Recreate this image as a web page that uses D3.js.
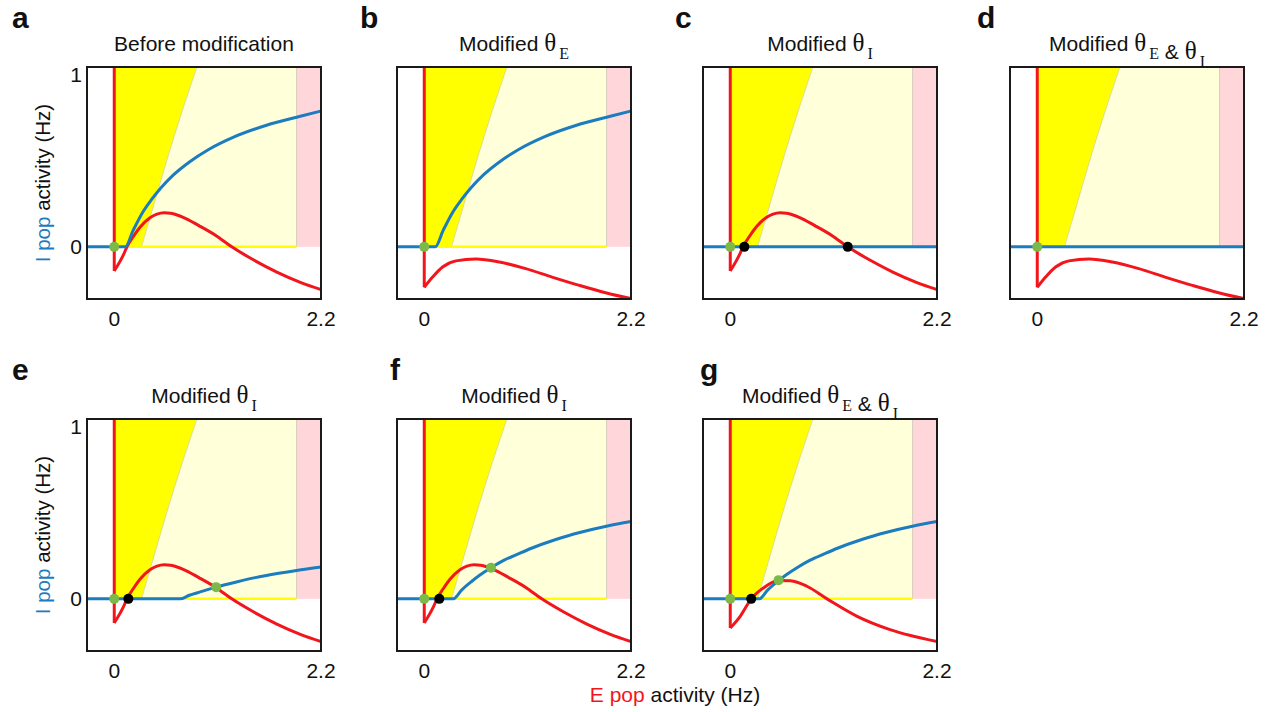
<!DOCTYPE html>
<html>
<head>
<meta charset="utf-8">
<script src="https://cdn.jsdelivr.net/npm/d3@7"></script>
<style>
  body { margin: 0; background: #fff; }
  text { font-family: "Liberation Sans", Arial, sans-serif; fill: #111; }
</style>
</head>
<body>
<div id="chart"></div>
<script>
// ---- data ----
const panelLabels = ["a", "b", "c", "d", "e", "f", "g"];
const panelTitles = [
  "Before modification",
  "Modified θ_E",
  "Modified θ_I",
  "Modified θ_E & θ_I",
  "Modified θ_I",
  "Modified θ_I",
  "Modified θ_E & θ_I"
];
const xTicks = [0, 2.2];
const yTicks = [0, 1];

// boundary of the bright yellow region (x as a function of y)
const yellowEdge = [[0.29, 0], [0.43, 0.25], [0.57, 0.5], [0.72, 0.75], [0.88, 1]];
const pinkStart = 1.94;

// E nullclines (red), after the vertical wall at x = 0
const redA = [[0, -0.134], [0.064, -0.078], [0.1, -0.042], [0.135, 0], [0.2, 0.055], [0.276, 0.11],
  [0.38, 0.162], [0.454, 0.182], [0.53, 0.19], [0.6, 0.187], [0.74, 0.163], [0.9, 0.118],
  [1.084, 0.062], [1.25, 0], [1.48, -0.072], [1.73, -0.14], [1.98, -0.197], [2.2, -0.237]];
const redB = [[0, -0.225], [0.089, -0.168], [0.195, -0.112], [0.337, -0.078], [0.55, -0.067],
  [0.8, -0.084], [1.08, -0.121], [1.36, -0.168], [1.65, -0.214], [1.93, -0.255], [2.2, -0.288]];
const redG = [[0, -0.162], [0.106, -0.097], [0.223, 0], [0.354, 0.061], [0.514, 0.102], [0.64, 0.1],
  [0.815, 0.07], [1.03, 0], [1.35, -0.097], [1.7, -0.171], [2.2, -0.237]];

// I nullclines (blue)
const blueA = [[-0.3, 0], [0.117, 0], [0.2, 0.09], [0.3, 0.19], [0.4, 0.265], [0.5, 0.33],
  [0.63, 0.4], [0.8, 0.472], [1.0, 0.54], [1.27, 0.61], [1.62, 0.676], [1.98, 0.726], [2.2, 0.755]];
const blueFlat = [[-0.3, 0], [2.2, 0]];
const blueE = [[-0.3, 0], [0.7, 0], [0.8, 0.02], [0.9, 0.036], [1.084, 0.065], [1.3, 0.094],
  [1.5, 0.118], [1.75, 0.142], [1.94, 0.158], [2.2, 0.177]];
const blueF = [[-0.3, 0], [0.31, 0], [0.4, 0.05], [0.5, 0.095], [0.6, 0.135], [0.71, 0.173],
  [0.85, 0.215], [1.0, 0.25], [1.134, 0.28], [1.4, 0.33], [1.665, 0.37], [1.95, 0.405], [2.2, 0.43]];

const redByPanel = [redA, redB, redA, redB, redA, redA, redG];
const blueByPanel = [blueA, blueA, blueFlat, blueFlat, blueE, blueF, blueF];

// fixed points: green = stable, black = unstable
const greenDots = [[[0, 0]], [[0, 0]], [[0, 0]], [[0, 0]], [[0, 0], [1.084, 0.065]],
  [[0, 0], [0.71, 0.173]], [[0, 0], [0.514, 0.104]]];
const blackDots = [[], [], [[0.15, 0], [1.25, 0]], [], [[0.15, 0]], [[0.16, 0]], [[0.223, 0]]];

// ---- layout ----
const width = 1268, height = 712;
const panelLeft = [87, 397, 703, 1010, 87, 397, 703];
const panelTop = [67, 67, 67, 67, 419, 419, 419];
const labelX = [12, 360, 675, 977, 12, 390, 700];
const pw = 234, ph = 232;
const showY = [true, false, false, false, true, false, false];

const RED = "#f2161c", BLUE = "#1b7cbf", GREEN = "#7cb84a";
const SERIF = "'Liberation Serif', 'Times New Roman', serif";

const svg = d3.select("#chart").append("svg")
  .attr("width", width)
  .attr("height", height);

panelLabels.forEach(function (lab, i) {
  const x0 = panelLeft[i], y0 = panelTop[i];
  const x = d3.scaleLinear().domain([-0.29, 2.2]).range([x0, x0 + pw]);
  const y = d3.scaleLinear().domain([-0.29, 1]).range([y0 + ph, y0]);
  const g = svg.append("g");

  g.append("clipPath").attr("id", "clip" + i)
    .append("rect").attr("x", x0).attr("y", y0).attr("width", pw).attr("height", ph);
  const plot = g.append("g").attr("clip-path", "url(#clip" + i + ")");

  // regions
  plot.append("rect")
    .attr("x", x(0)).attr("y", y(1))
    .attr("width", x(pinkStart) - x(0)).attr("height", y(0) - y(1))
    .attr("fill", "#ffffda");
  plot.append("rect")
    .attr("x", x(pinkStart)).attr("y", y(1))
    .attr("width", x(2.2) - x(pinkStart)).attr("height", y(0) - y(1))
    .attr("fill", "#ffd7da");
  plot.append("line")
    .attr("x1", x(pinkStart)).attr("x2", x(pinkStart))
    .attr("y1", y(1)).attr("y2", y(0))
    .attr("stroke", "#cfc4b8").attr("stroke-width", 0.8);

  const edge = d3.line().x(d => x(d[0])).y(d => y(d[1])).curve(d3.curveCatmullRom);
  plot.append("path")
    .attr("d", edge(yellowEdge) + "L" + x(0) + "," + y(1) + "L" + x(0) + "," + y(0) + "Z")
    .attr("fill", "#ffff00");
  plot.append("path")
    .attr("d", edge(yellowEdge))
    .attr("fill", "none").attr("stroke", "#d4d0a8").attr("stroke-width", 0.8);

  plot.append("line")
    .attr("x1", x(0)).attr("x2", x(pinkStart))
    .attr("y1", y(0)).attr("y2", y(0))
    .attr("stroke", "#ffff00").attr("stroke-width", 2.5);

  // nullclines
  const red = redByPanel[i];
  const smooth = d3.line().x(d => x(d[0])).y(d => y(d[1])).curve(d3.curveMonotoneX);
  const straight = d3.line().x(d => x(d[0])).y(d => y(d[1]));
  plot.append("path")
    .attr("d", straight([[0, 1], red[0]]))
    .attr("fill", "none").attr("stroke", RED).attr("stroke-width", 3);
  plot.append("path")
    .attr("d", smooth(red))
    .attr("fill", "none").attr("stroke", RED).attr("stroke-width", 3);
  plot.append("path")
    .attr("d", smooth(blueByPanel[i]))
    .attr("fill", "none").attr("stroke", BLUE).attr("stroke-width", 3);

  // fixed points
  plot.selectAll(".gdot").data(greenDots[i]).enter().append("circle")
    .attr("cx", d => x(d[0])).attr("cy", d => y(d[1])).attr("r", 5)
    .attr("fill", GREEN);
  plot.selectAll(".bdot").data(blackDots[i]).enter().append("circle")
    .attr("cx", d => x(d[0])).attr("cy", d => y(d[1])).attr("r", 5)
    .attr("fill", "#000");

  // frame
  g.append("rect")
    .attr("x", x0).attr("y", y0).attr("width", pw).attr("height", ph)
    .attr("fill", "none").attr("stroke", "#1a1a1a").attr("stroke-width", 2);

  // ticks
  g.selectAll(".xt").data(xTicks).enter().append("text")
    .attr("x", d => x(d)).attr("y", y0 + ph + 27)
    .attr("text-anchor", "middle").attr("font-size", 21)
    .text(d => d);
  if (showY[i]) {
    g.selectAll(".yt").data(yTicks).enter().append("text")
      .attr("x", x0 - 5).attr("y", d => y(d) + (d === 1 ? 8 : 0))
      .attr("dy", "0.35em")
      .attr("text-anchor", "end").attr("font-size", 21)
      .text(d => d);

    const yl = g.append("text")
      .attr("transform", "translate(50," + (y0 + ph / 2) + ") rotate(-90)")
      .attr("text-anchor", "middle").attr("font-size", 20.5);
    yl.append("tspan").style("fill", BLUE).text("I pop");
    yl.append("tspan").text(" activity (Hz)");
  }

  // panel letter
  g.append("text")
    .attr("x", labelX[i]).attr("y", y0 - 39)
    .attr("font-size", 30).attr("font-weight", "bold")
    .text(lab);

  // title, with serif theta and subscripts
  const t = g.append("text")
    .attr("x", x0 + pw / 2).attr("y", y0 - 16)
    .attr("text-anchor", "middle").attr("font-size", 21);
  const parts = panelTitles[i].split(/(θ_[EI])/);
  parts.forEach(function (p) {
    if (!p) return;
    if (p.startsWith("θ_")) {
      t.append("tspan").style("font-family", SERIF).attr("font-size", 25).text("θ");
      t.append("tspan").style("font-family", SERIF).attr("font-size", 16)
        .attr("dx", 3).attr("dy", 8).text(p.slice(2));
      t.append("tspan").attr("dy", -8).text("");
    } else {
      t.append("tspan").text(p);
    }
  });
});

// shared x-axis title
const xl = svg.append("text")
  .attr("x", 675).attr("y", 702)
  .attr("text-anchor", "middle").attr("font-size", 21);
xl.append("tspan").style("fill", RED).text("E pop");
xl.append("tspan").text(" activity (Hz)");
</script>
</body>
</html>
